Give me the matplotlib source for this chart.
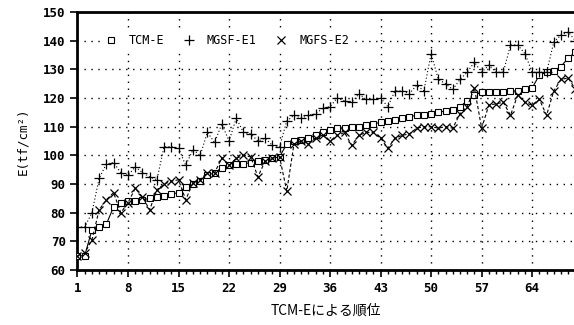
import numpy as np
import matplotlib
matplotlib.use('Agg')
import matplotlib.pyplot as plt

# rank order by TCM-E
rank = list(range(1, 71))

tcm_e = [65, 65, 74, 75, 76, 82, 83.5, 84, 84, 84.5,
         85, 85.5, 86, 86.5, 87, 89, 90, 91, 93, 94,
         95.5, 96.5, 97, 97, 97.5, 98, 98.5, 99, 99.5, 104,
         105, 105.5, 106, 107, 108, 109, 109.5, 109.5, 110, 110,
         110.5, 111, 111.5, 112, 112.5, 113, 113.5, 114, 114, 114.5,
         115, 115.5, 116, 117, 119, 121, 122, 122, 122, 122,
         122.5, 122.5, 123, 123.5, 128, 129, 129.5, 131, 134, 136]

mgsf_e1 = [75, 75, 80, 92, 97, 97.5, 94, 93, 96, 94,
           92.5, 91.5, 103, 103, 102.5, 96.5, 102, 100, 108, 104.5,
           111, 105, 113, 108, 107.5, 105, 106, 103.5, 103, 112,
           114, 113, 114, 114.5, 116.5, 117, 120, 119, 118.5, 121.5,
           119.5, 119.5, 120, 117, 122.5, 122.5, 121.5, 124.5, 122.5, 135.5,
           126.5, 125, 123, 126.5, 129, 132.5, 129, 131.5, 129, 129,
           138.5, 138.5, 135.5, 129, 129, 129, 139.5, 142, 143, 140]

mgfs_e2 = [65, 66, 70.5, 81, 84.5, 87, 80, 83.5, 88.5, 85.5,
           81, 88, 90, 91, 91.5, 84.5, 90.5, 91.5, 94, 94,
           99, 96.5, 99, 100, 99.5, 92.5, 98, 99, 99.5, 87.5,
           104, 105, 104, 106, 107, 105, 107, 108, 103.5, 107,
           108, 108, 106, 102.5, 106, 107, 107.5, 109.5, 110, 110,
           109.5, 110, 109.5, 114.5, 117, 123.5, 109.5, 117.5, 118, 118.5,
           114, 121, 118.5, 117.5, 119.5, 114, 122.5, 126.5, 127, 123]

x_ticks = [1, 8, 15, 22, 29, 36, 43, 50, 57, 64]
y_ticks = [60, 70, 80, 90, 100, 110, 120, 130, 140, 150]

fig = plt.figure(figsize=(5.74, 3.25), dpi=100)
ax = fig.add_axes([0.135, 0.169, 0.865, 0.794])

ax.plot(rank, tcm_e, color='black', lw=0.8, ls='-', marker='s', ms=5,
        mfc='white', mec='black', mew=0.8, label='TCM-E', zorder=3)
ax.plot(rank, mgsf_e1, color='black', lw=0.8, ls=(0, (1, 2)), marker='+', ms=7,
        mew=0.9, label='MGSF-E1', zorder=3)
ax.plot(rank, mgfs_e2, color='black', lw=0.8, ls=(0, (3, 2)), marker='x', ms=6,
        mew=0.9, label='MGFS-E2', zorder=3)

ax.set_xlim(1, 69.8)
ax.set_ylim(60, 150)
ax.set_xticks(x_ticks)
ax.set_xticks(range(1, 70), minor=True)
ax.set_yticks(y_ticks)

for s in ['left', 'bottom', 'top']:
    ax.spines[s].set_linewidth(2)
ax.spines['right'].set_visible(False)

ax.tick_params(axis='both', which='major', direction='out', length=5, width=1.2,
               labelsize=9)
ax.tick_params(axis='x', which='minor', direction='out', length=3, width=1)
for lab in ax.get_xticklabels() + ax.get_yticklabels():
    lab.set_family('DejaVu Sans Mono')
    lab.set_fontweight('bold')

# dotted grid at the major ticks
for xv in x_ticks[1:]:
    ax.axvline(xv, color='black', lw=1.0, ls=(0, (1, 4)), zorder=1)
for yv in y_ticks[1:-1]:
    ax.axhline(yv, color='black', lw=1.0, ls=(0, (1, 4)), zorder=1)

ax.set_ylabel('E(tf/cm²)', family='DejaVu Sans Mono', fontsize=9, labelpad=10)
ax.set_xlabel('TCM-Eによる順位', family=['Noto Sans CJK JP', 'DejaVu Sans'],
              fontsize=10, labelpad=6)

leg = ax.legend(loc='center left', bbox_to_anchor=(0.04, (140 - 60) / 90), ncol=3,
                frameon=True, edgecolor='none', facecolor='white', framealpha=1,
                handlelength=1.0, handletextpad=1.0, columnspacing=1.6,
                borderpad=0.15, prop={'family': 'DejaVu Sans Mono', 'size': 8.5})
for h in leg.legend_handles:
    h.set_linestyle('none')
leg.get_frame().set_linewidth(0)
leg.set_zorder(5)

fig.savefig('out.png', dpi=100)
